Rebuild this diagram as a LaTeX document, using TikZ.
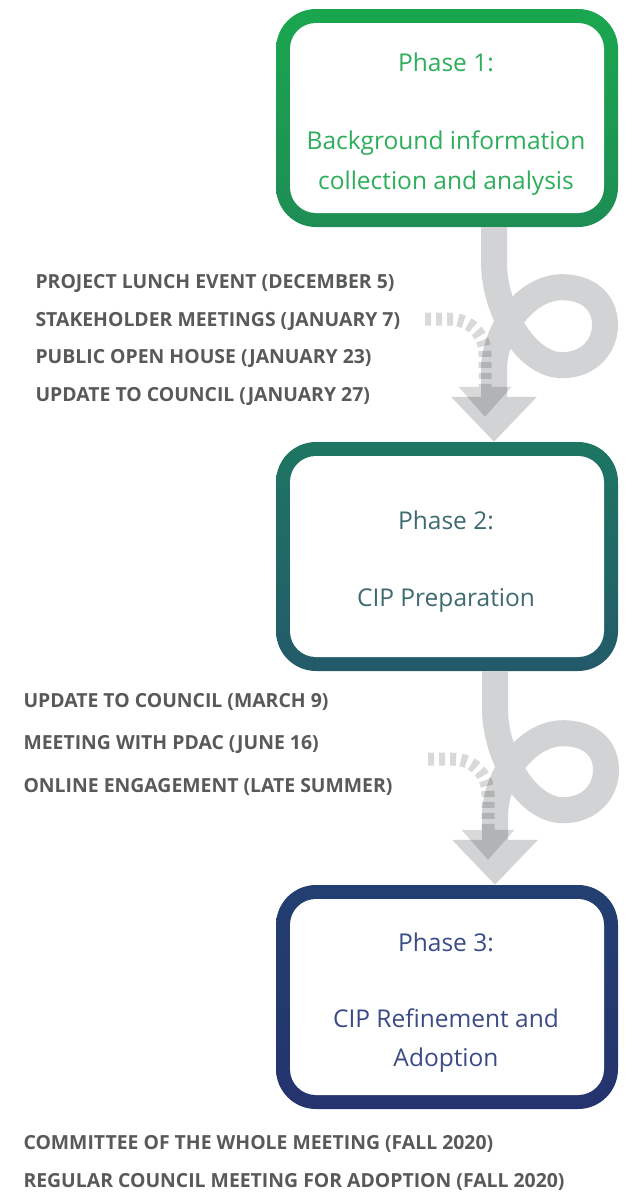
\documentclass[tikz,border=0pt]{standalone}
\usepackage{fontspec}
\setmainfont{Open Sans}
\usetikzlibrary{arrows.meta,calc}

\definecolor{curlgray}{HTML}{D1D3D4}
\definecolor{labelgray}{HTML}{58595B}
\definecolor{greentop}{HTML}{1AA64F}
\definecolor{greenbot}{HTML}{1E8D55}
\definecolor{greentext}{HTML}{2DAE5A}
\definecolor{tealtop}{HTML}{1E7662}
\definecolor{tealbot}{HTML}{235A6A}
\definecolor{tealtext}{HTML}{3E6A70}
\definecolor{navytop}{HTML}{233F71}
\definecolor{navybot}{HTML}{25336F}
\definecolor{navytext}{HTML}{3B4C85}

\tikzset{
  phasebox/.style 2 args={top color=#1,bottom color=#2,
    rounded corners=40pt,minimum width=342pt,inner sep=0pt,
    path picture={\fill[white,rounded corners=26pt]
      ($(path picture bounding box.north west)+(14pt,-14pt)$) rectangle
      ($(path picture bounding box.south east)+(-14pt,14pt)$);}},
  phasetext/.style={anchor=base,font=\fontsize{24.5}{30}\selectfont},
  event/.style={anchor=base west,text=labelgray,
    font=\bfseries\fontsize{19.4}{23}\selectfont},
  curl/.style={draw=curlgray,line width=26pt,
    -{Triangle[width=83pt,length=45pt]}},
  hint/.style={draw=black,line width=13pt,
    dash pattern=on 6pt off 5pt,
    -{Triangle[width=53pt,length=30pt,line width=0pt]}},
}

\begin{document}
\begin{tikzpicture}[x=1pt,y=-1pt]
    \useasboundingbox (0,0) rectangle (634,1192);

    % Phase boxes.
    \node[phasebox={greentop}{greenbot},minimum height=218pt] (p1)
        at (447,118) {};
    \node[phasebox={tealtop}{tealbot},minimum height=229pt] (p2)
        at (447,556.5) {};
    \node[phasebox={navytop}{navybot},minimum height=224pt] (p3)
        at (447,997) {};

    \node[phasetext,text=greentext] (t1a) at (446,71) {Phase 1:};
    \node[phasetext,text=greentext] (t1b) at (446,149) {Background information};
    \node[phasetext,text=greentext] (t1c) at (446,189) {collection and analysis};
    \node[phasetext,text=tealtext] (t2a) at (446,529) {Phase 2:};
    \node[phasetext,text=tealtext] (t2b) at (446,606) {CIP Preparation};
    \node[phasetext,text=navytext] (t3a) at (446,951) {Phase 3:};
    \node[phasetext,text=navytext] (t3b) at (446,1027) {CIP Refinement and};
    \node[phasetext,text=navytext] (t3c) at (446,1066) {Adoption};

    % Curl from phase 1 to phase 2.
    \begin{scope}[shift={([xshift=47pt]p1.south)}]
        \draw[curl] (0,0) -- (0,35)
            .. controls (0,83) and (32,138) .. (68,138)
            .. controls (96,138) and (111,118) .. (111,98)
            .. controls (111,73) and (92,60) .. (68,60)
            .. controls (32,60) and (0,103) .. (0,143)
            -- ([xshift=47pt]p2.north);
        \begin{scope}[transparency group,opacity=0.15]
            \draw[hint] (-69,92) -- (-44,92)
                .. controls (-24,92) and (-9,107) .. (-9,127)
                -- ([xshift=38pt,yshift=25pt]p2.north);
        \end{scope}
    \end{scope}

    % Curl from phase 2 to phase 3.
    \begin{scope}[shift={([xshift=48pt]p2.south)}]
        \draw[curl] (0,0) -- (0,37)
            .. controls (0,85) and (32,139) .. (68,139)
            .. controls (96,139) and (111,119) .. (111,99)
            .. controls (111,74) and (92,62) .. (68,62)
            .. controls (32,62) and (0,105) .. (0,145)
            -- ([xshift=48pt]p3.north);
        \begin{scope}[transparency group,opacity=0.15]
            \draw[hint] (-67,88) -- (-42,88)
                .. controls (-22,88) and (-7,103) .. (-7,123)
                -- ([xshift=41pt,yshift=25pt]p3.north);
        \end{scope}
    \end{scope}

    % Engagement events.
    \node[event] (e11) at (32,288) {PROJECT LUNCH EVENT (DECEMBER 5)};
    \node[event] (e12) at (32,326) {STAKEHOLDER MEETINGS (JANUARY 7)};
    \node[event] (e13) at (32,363) {PUBLIC OPEN HOUSE (JANUARY 23)};
    \node[event] (e14) at (32,401) {UPDATE TO COUNCIL (JANUARY 27)};
    \node[event] (e21) at (20,707) {UPDATE TO COUNCIL (MARCH 9)};
    \node[event] (e22) at (20,749) {MEETING WITH PDAC (JUNE 16)};
    \node[event] (e23) at (20,792) {ONLINE ENGAGEMENT (LATE SUMMER)};
    \node[event] (e31) at (20,1149) {COMMITTEE OF THE WHOLE MEETING (FALL 2020)};
    \node[event] (e32) at (20,1187) {REGULAR COUNCIL MEETING FOR ADOPTION (FALL 2020)};
\end{tikzpicture}
\end{document}
